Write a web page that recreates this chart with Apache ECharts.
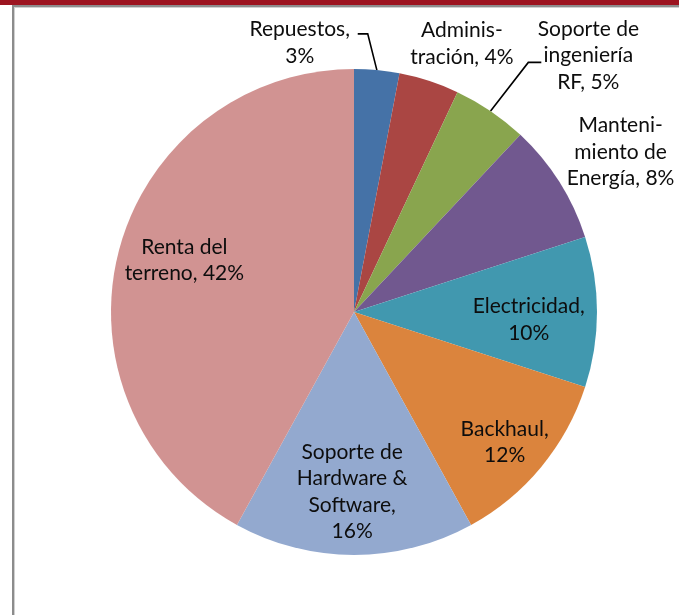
<!DOCTYPE html>
<html>
<head>
<meta charset="utf-8">
<script src="https://cdn.jsdelivr.net/npm/echarts@6/dist/echarts.min.js"></script>
<style>
  html, body { margin: 0; padding: 0; background: #ffffff; }
  #chart { width: 679px; height: 615px; }
</style>
</head>
<body>
<div id="chart"></div>
<script>
// ---- data ----
const categories = ['Repuestos', 'Administración', 'Soporte de ingeniería RF', 'Mantenimiento de Energía',
                    'Electricidad', 'Backhaul', 'Soporte de Hardware & Software', 'Renta del terreno'];
const values = [3, 4, 5, 8, 10, 12, 16, 42];
// wrapped label text as it appears in the picture
const labelNames = ['Repuestos', 'Adminis-\ntración', 'Soporte de\ningeniería\nRF', 'Manteni-\nmiento de\nEnergía',
                    'Electricidad', 'Backhaul', 'Soporte de\nHardware &\nSoftware', 'Renta del\nterreno'];
const valueOnOwnLine = [true, false, false, false, true, true, true, false];

// ---- style / layout ----
const colors = ['#4572A7', '#AA4643', '#89A54E', '#71588F', '#4198AF', '#DB843D', '#93A9CF', '#D19392'];
const C = [354, 312];
const R = 243;
// label placement: [angle offset from slice mid-angle (deg), distance as fraction of radius]
const labelPolar = [[-16.8, 1.13], [3.9, 1.19], [8.2, 1.43], [1.4, 1.28], [2.6, 0.72], [1.3, 0.82], [0.6, 0.74], [2.6, 0.73]];
// leader line elbows relative to label centre: [elbow, end]
const leaders = {0: [[68, -9], [58, -9]], 2: [[-60, 7], [-47, 7]]};

const total = values.reduce((a, b) => a + b, 0);
const chart = echarts.init(document.getElementById('chart'), null, { renderer: 'canvas' });

const data = categories.map((c, i) => ({
  name: c,
  value: values[i],
  itemStyle: { color: colors[i] },
  labelLine: { show: leaders[i] !== undefined }
}));

chart.setOption({
  backgroundColor: '#ffffff',
  animation: false,
  graphic: [
    { type: 'rect', shape: { x: 0, y: 0, width: 679, height: 5 }, style: { fill: '#9C1420' }, silent: true },
    { type: 'rect', shape: { x: 12, y: 5, width: 667, height: 2 }, style: { fill: '#8c8c8c' }, silent: true },
    { type: 'rect', shape: { x: 12, y: 5, width: 2, height: 610 }, style: { fill: '#8c8c8c' }, silent: true },
    { type: 'rect', shape: { x: 14, y: 7, width: 1, height: 608 }, style: { fill: '#d0d0d0' }, silent: true },
    { type: 'rect', shape: { x: 14, y: 7, width: 665, height: 1 }, style: { fill: '#d0d0d0' }, silent: true }
  ],
  series: [{
    type: 'pie',
    center: C,
    radius: R,
    startAngle: 90,
    clockwise: true,
    avoidLabelOverlap: false,
    silent: true,
    itemStyle: { borderWidth: 0 },
    emphasis: { disabled: true },
    data: data,
    label: {
      show: true,
      position: 'outside',
      fontFamily: 'Lato',
      fontSize: 21,
      lineHeight: 26.5,
      color: '#0d0d0d',
      align: 'center',
      formatter: function (p) {
        const i = p.dataIndex;
        return labelNames[i] + ',' + (valueOnOwnLine[i] ? '\n' : ' ') + values[i] + '%';
      }
    },
    labelLine: { show: false, lineStyle: { color: '#000000', width: 1.6 } },
    labelLayout: function (p) {
      const i = p.dataIndex;
      const before = values.slice(0, i).reduce((a, b) => a + b, 0);
      const mid = (before + values[i] / 2) / total * 360;
      const a = (mid + labelPolar[i][0]) * Math.PI / 180;
      const f = labelPolar[i][1];
      const x = C[0] + f * R * Math.sin(a);
      const y = C[1] - f * R * Math.cos(a);
      const out = { x: x, y: y, align: 'center', verticalAlign: 'middle' };
      const lk = leaders[i];
      if (lk) {
        const m = mid * Math.PI / 180;
        out.labelLinePoints = [
          [C[0] + R * Math.sin(m), C[1] - R * Math.cos(m)],
          [x + lk[0][0], y + lk[0][1]],
          [x + lk[1][0], y + lk[1][1]]
        ];
      }
      return out;
    }
  }]
});
</script>
</body>
</html>
